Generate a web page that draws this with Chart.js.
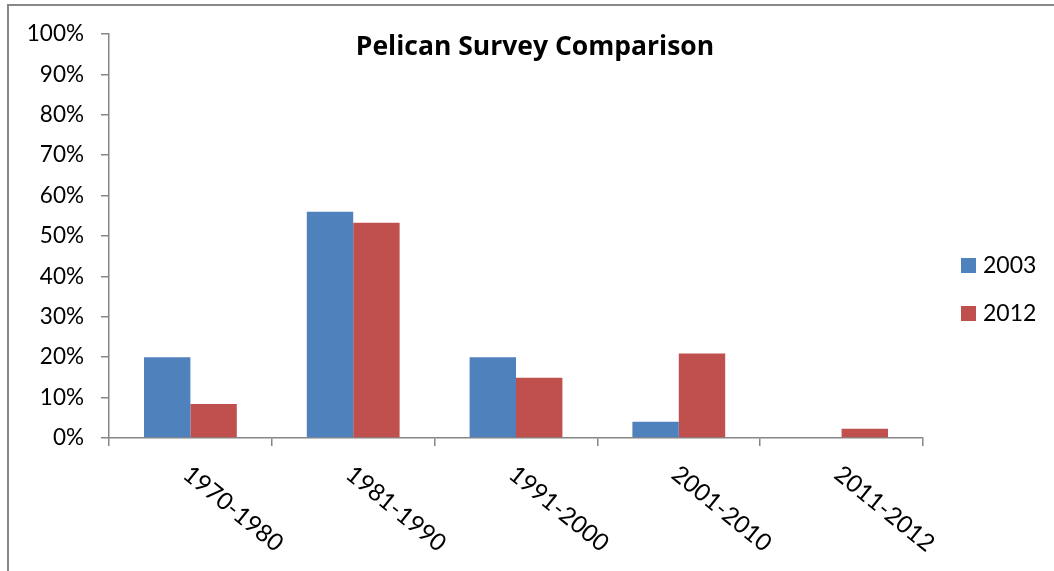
<!DOCTYPE html>
<html>
<head>
<meta charset="utf-8">
<script src="https://cdn.jsdelivr.net/npm/chart.js@4.4.1/dist/chart.umd.min.js"></script>
<style>
  html, body { margin: 0; padding: 0; background: #fff; overflow: hidden; }
  #frame { position: absolute; left: 7px; top: 4px; width: 1200px; height: 700px; border: 2px solid #888; }
  #wrap { position: absolute; left: 0; top: 0; width: 1054px; height: 571px; }
</style>
</head>
<body>
<div id="frame"></div>
<div id="wrap"><canvas id="pelicanChart" width="1054" height="571"></canvas></div>
<script>
// survey data (percent of birds per banding period)
const periods = ['1970-1980', '1981-1990', '1991-2000', '2001-2010', '2011-2012'];
const survey2003 = [20, 56, 20, 4, 0];
const survey2012 = [8.4, 53.3, 14.9, 20.9, 2.3];
const seriesNames = ['2003', '2012'];
const seriesColors = ['#4F81BD', '#C0504D'];

const axisGray = '#868686';
const fontFam = 'Lato, "Open Sans", sans-serif';

// Excel-like extras: title over the plot, slanted category labels, legend on the right
const excelDecor = {
  id: 'excelDecor',
  afterDraw(chart) {
    const ctx = chart.ctx;
    const xs = chart.scales.x;
    const area = chart.chartArea;
    ctx.save();
    ctx.fillStyle = '#000';

    ctx.font = 'bold 26.5px "Open Sans", sans-serif';
    ctx.textAlign = 'center';
    ctx.textBaseline = 'alphabetic';
    ctx.fillText('Pelican Survey Comparison', 535, 55);

    ctx.font = '24px ' + fontFam;
    ctx.textAlign = 'left';
    ctx.textBaseline = 'middle';
    periods.forEach((p, i) => {
      const x = xs.getPixelForValue(i);
      ctx.save();
      ctx.translate(x - 4, area.bottom + 33);
      ctx.rotate(39 * Math.PI / 180);
      ctx.fillText(p, 0, 0);
      ctx.restore();
    });

    ctx.font = '23px ' + fontFam;
    chart.data.datasets.forEach((ds, i) => {
      const y = 258 + i * 48;
      ctx.fillStyle = ds.backgroundColor;
      ctx.fillRect(961, y, 15, 15);
      ctx.fillStyle = '#000';
      ctx.fillText(ds.label, 983, y + 8);
    });
    ctx.restore();
  }
};

new Chart(document.getElementById('pelicanChart'), {
  type: 'bar',
  data: {
    labels: periods,
    datasets: [
      { label: seriesNames[0], data: survey2003, backgroundColor: seriesColors[0] },
      { label: seriesNames[1], data: survey2012, backgroundColor: seriesColors[1] }
    ]
  },
  options: {
    responsive: false,
    animation: false,
    devicePixelRatio: 1,
    layout: { padding: { top: 34, right: 131, bottom: 0, left: 0 } },
    datasets: {
      bar: { categoryPercentage: 0.57, barPercentage: 1, borderWidth: 0 }
    },
    scales: {
      x: {
        grid: { drawOnChartArea: false, tickLength: 8, color: axisGray, lineWidth: 1.5, offset: true },
        border: { color: axisGray, width: 1.5 },
        ticks: { display: false },
        afterFit: (s) => { s.height = 133; }
      },
      y: {
        min: 0,
        max: 100,
        ticks: {
          stepSize: 10,
          callback: (v) => v + '%',
          color: '#000',
          padding: 17,
          font: { family: fontFam, size: 22.5 }
        },
        grid: { drawOnChartArea: false, tickLength: 8, color: axisGray, lineWidth: 1.5 },
        border: { color: axisGray, width: 1.5 },
        afterFit: (s) => { s.width = 109; }
      }
    },
    plugins: {
      legend: { display: false },
      tooltip: { enabled: false }
    }
  },
  plugins: [excelDecor]
});
</script>
</body>
</html>
